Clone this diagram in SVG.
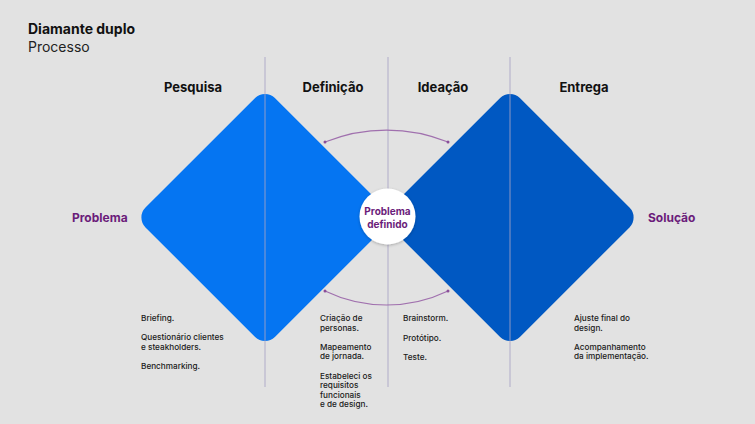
<svg xmlns="http://www.w3.org/2000/svg" width="755" height="424" viewBox="0 0 755 424">
<defs>
<style>
text{font-family:Inter,"Noto Sans","Liberation Sans",sans-serif;fill:#111;}
.title{font-size:14px;font-weight:700;}
.sub{font-size:14px;font-weight:400;fill:#222;}
.head{font-size:13px;font-weight:700;text-anchor:middle;}
.end{font-size:12px;font-weight:700;fill:#6B1C7A;}
.small{font-size:8.2px;font-weight:500;fill:#1a1a1a;}
.grid{stroke:#A7A3C4;stroke-width:1;opacity:0.85;}
.arc{fill:none;stroke:#A070AE;stroke-width:1.2;}
</style>
<filter id="sh" x="-30%" y="-30%" width="160%" height="160%">
<feDropShadow dx="0" dy="1" stdDeviation="1.5" flood-color="#000" flood-opacity="0.25"/>
</filter>
</defs>
<rect width="755" height="424" fill="#E2E2E2"/>
<g id="title">
<text class="title" x="28" y="34">Diamante duplo</text>
<text class="sub" x="28" y="52">Processo</text>
</g>
<g id="diamond-left">
<rect x="173.5" y="126" width="183" height="183" rx="14" fill="#0575F2" transform="rotate(45 265 217.5)"/>
</g>
<g id="diamond-right">
<rect x="418.5" y="126" width="183" height="183" rx="14" fill="#0058C2" transform="rotate(45 510 217.5)"/>
</g>
<g id="connectors">
<line class="grid" x1="265" y1="57" x2="265" y2="387"/>
<line class="grid" x1="388" y1="57" x2="388" y2="387"/>
<line class="grid" x1="510" y1="57" x2="510" y2="387"/>
<path class="arc" d="M325,142 A164,164 0 0 1 448,142"/>
<path class="arc" d="M325,291 A142,142 0 0 0 448,291"/>
<circle cx="325" cy="142" r="1.5" fill="#8A4E9A"/>
<circle cx="448" cy="142" r="1.5" fill="#8A4E9A"/>
<circle cx="325" cy="291" r="1.5" fill="#8A4E9A"/>
<circle cx="448" cy="291" r="1.5" fill="#8A4E9A"/>
</g>
<g id="headers">
<text class="head" x="193" y="92">Pesquisa</text>
<text class="head" x="333" y="92">Definição</text>
<text class="head" x="443" y="92">Ideação</text>
<text class="head" x="584" y="92">Entrega</text>
</g>
<g id="problema">
<text class="end" x="72" y="222">Problema</text>
</g>
<g id="solucao">
<text class="end" x="648" y="222">Solução</text>
</g>
<g id="problema-definido">
<circle cx="387.5" cy="216.5" r="28" fill="#FFFFFF" filter="url(#sh)"/>
<text class="end" style="font-size:10px;text-anchor:middle" x="387.5" y="215">Problema</text>
<text class="end" style="font-size:10px;text-anchor:middle" x="387.5" y="228">definido</text>
</g>
<g id="pesquisa-items">
<text class="small" x="141" y="321">Briefing.</text>
<text class="small" x="141" y="340">Questionário clientes</text>
<text class="small" x="141" y="349.5">e steakholders.</text>
<text class="small" x="141" y="369">Benchmarking.</text>
</g>
<g id="definicao-items">
<text class="small" x="320" y="321">Criação de</text>
<text class="small" x="320" y="330.5">personas.</text>
<text class="small" x="320" y="349.5">Mapeamento</text>
<text class="small" x="320" y="359">de jornada.</text>
<text class="small" x="320" y="378.5">Estabeleci os</text>
<text class="small" x="320" y="388">requisitos</text>
<text class="small" x="320" y="397.5">funcionais</text>
<text class="small" x="320" y="407">e de design.</text>
</g>
<g id="ideacao-items">
<text class="small" x="403" y="321">Brainstorm.</text>
<text class="small" x="403" y="340.5">Protótipo.</text>
<text class="small" x="403" y="359.5">Teste.</text>
</g>
<g id="entrega-items">
<text class="small" x="574" y="321">Ajuste final do</text>
<text class="small" x="574" y="330.5">design.</text>
<text class="small" x="574" y="349.5">Acompanhamento</text>
<text class="small" x="574" y="359">da implementação.</text>
</g>
</svg>
